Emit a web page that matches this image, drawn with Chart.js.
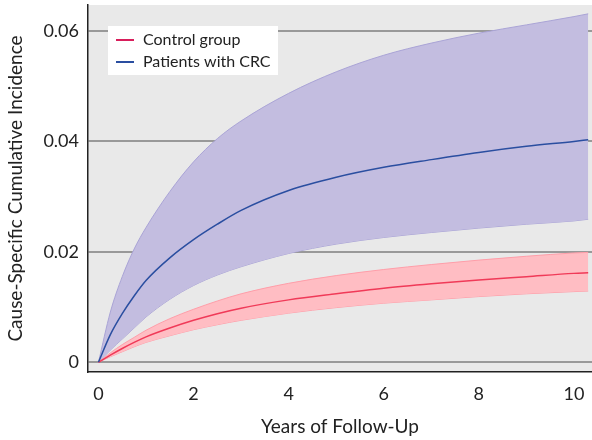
<!DOCTYPE html>
<html>
<head>
<meta charset="utf-8">
<script src="https://cdn.jsdelivr.net/npm/chart.js@4"></script>
<style>
  body { margin: 0; background: #fff; }
  #wrap { width: 592px; height: 440px; }
</style>
</head>
<body>
<div id="wrap"><canvas id="cif" width="592" height="440"></canvas></div>
<script>
// Years of follow-up (x)
const years = [0, 0.25, 0.5, 0.75, 1, 1.5, 2, 2.5, 3, 4, 5, 6, 7, 8, 9, 10, 10.3];

// Patients with CRC: estimate and 95% band
const crcMid   = [0, 0.0050, 0.0088, 0.0120, 0.0148, 0.0189, 0.0222, 0.0250, 0.0275, 0.0311, 0.0335, 0.0353, 0.0367, 0.0380, 0.0391, 0.0400, 0.0403];
const crcUpper = [0, 0.0091, 0.0155, 0.0205, 0.0244, 0.0309, 0.0363, 0.0405, 0.0437, 0.0487, 0.0526, 0.0556, 0.0578, 0.0596, 0.0611, 0.0626, 0.0631];
const crcLower = [0, 0.0022, 0.0042, 0.0062, 0.0082, 0.0114, 0.0139, 0.0158, 0.0173, 0.0197, 0.0214, 0.0226, 0.0235, 0.0243, 0.0250, 0.0256, 0.0259];

// Control group: estimate and 95% band
const ctrlMid   = [0, 0.0013, 0.0025, 0.0036, 0.0046, 0.0062, 0.0076, 0.0088, 0.0098, 0.0113, 0.0124, 0.0134, 0.0142, 0.0149, 0.0155, 0.0161, 0.0162];
const ctrlUpper = [0, 0.0017, 0.0032, 0.0045, 0.0058, 0.0079, 0.0096, 0.0111, 0.0124, 0.0143, 0.0157, 0.0168, 0.0177, 0.0185, 0.0192, 0.0198, 0.0199];
const ctrlLower = [0, 0.0010, 0.0019, 0.0028, 0.0036, 0.0048, 0.0059, 0.0068, 0.0076, 0.0089, 0.0099, 0.0107, 0.0113, 0.0119, 0.0124, 0.0128, 0.0129];

const xTicks = [0, 2, 4, 6, 8, 10];
const yTicks = [0, 0.02, 0.04, 0.06];
const legendLabels = ['Control group', 'Patients with CRC'];

const pts = arr => arr.map((v, i) => ({ x: years[i], y: v }));

const FONT = 'Lato, "Noto Sans", sans-serif';
Chart.defaults.font.family = FONT;
Chart.defaults.font.size = 18;
Chart.defaults.color = '#222';

// grey panel behind the plot
const panelBg = {
    id: 'panelBg',
    beforeDraw(chart) {
        const { ctx, chartArea: a } = chart;
        ctx.save();
        ctx.fillStyle = '#e9e9e9';
        ctx.fillRect(a.left, a.top, a.right - a.left, a.bottom - a.top);
        ctx.restore();
    }
};

// legend box inside the plot, top-left
const insideLegend = {
    id: 'insideLegend',
    afterDraw(chart) {
        const { ctx, chartArea: a } = chart;
        const colors = ['#d81e5b', '#2a4ea0'];
        const x0 = a.left + 20, y0 = a.top + 21;
        ctx.save();
        ctx.fillStyle = '#fff';
        ctx.fillRect(x0, y0, 170, 49);
        ctx.font = '16px ' + FONT;
        ctx.textBaseline = 'middle';
        legendLabels.forEach((lbl, i) => {
            const y = y0 + 14 + i * 22;
            ctx.strokeStyle = colors[i];
            ctx.lineWidth = 2;
            ctx.beginPath();
            ctx.moveTo(x0 + 8, y);
            ctx.lineTo(x0 + 26, y);
            ctx.stroke();
            ctx.fillStyle = '#222';
            ctx.fillText(lbl, x0 + 35, y);
        });
        ctx.restore();
    }
};

const band = (data, fill, edge, withFill) => ({
    data: pts(data),
    borderColor: edge,
    borderWidth: 1,
    backgroundColor: fill,
    fill: withFill ? '+1' : false,
    pointRadius: 0,
    cubicInterpolationMode: 'monotone'
});

new Chart(document.getElementById('cif'), {
    type: 'line',
    data: {
        datasets: [
            { label: legendLabels[1], data: pts(crcMid), borderColor: '#2a4ea0', borderWidth: 1.5, pointRadius: 0, fill: false, cubicInterpolationMode: 'monotone' },
            { label: legendLabels[0], data: pts(ctrlMid), borderColor: '#f03a58', borderWidth: 1.5, pointRadius: 0, fill: false, cubicInterpolationMode: 'monotone' },
            band(ctrlUpper, '#ffbdc3', '#ff9ea9', true),
            band(ctrlLower, '#ffbdc3', '#ff9ea9', false),
            band(crcUpper, '#c3bde0', '#aaa4d6', true),
            band(crcLower, '#c3bde0', '#aaa4d6', false)
        ]
    },
    options: {
        responsive: false,
        animation: false,
        layout: { padding: { top: 5, right: 0, left: 0, bottom: 0 } },
        plugins: { legend: { display: false }, tooltip: { enabled: false } },
        scales: {
            x: {
                type: 'linear',
                min: -0.22,
                max: 10.38,
                afterBuildTicks: s => { s.ticks = xTicks.map(v => ({ value: v })); },
                afterFit: s => { s.height = 68; s.paddingLeft = 0; s.paddingRight = 0; },
                grid: { display: false, drawTicks: false },
                border: { display: true, color: '#222', width: 1.5 },
                ticks: { padding: 11, callback: v => String(v) },
                title: { display: true, text: 'Years of Follow-Up', font: { size: 19 }, padding: { top: 0, bottom: 2 } }
            },
            y: {
                type: 'linear',
                min: -0.00176,
                max: 0.0647,
                afterBuildTicks: s => { s.ticks = yTicks.map(v => ({ value: v })); },
                afterFit: s => { s.width = 88; s.paddingTop = 0; s.paddingBottom = 0; },
                grid: { color: '#999', lineWidth: 2, drawTicks: false },
                border: { display: true, color: '#222', width: 1.5 },
                ticks: { padding: 9, callback: v => v === 0 ? '0' : v.toFixed(2) },
                title: { display: true, text: 'Cause-Specific Cumulative Incidence', font: { size: 19 }, padding: { top: 4, bottom: 0 } }
            }
        }
    },
    plugins: [panelBg, insideLegend]
});
</script>
</body>
</html>
